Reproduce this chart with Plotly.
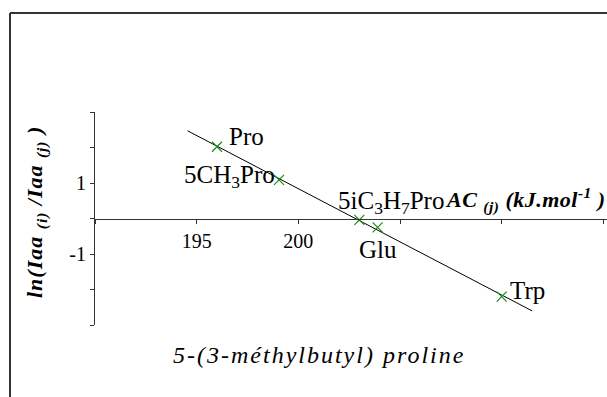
import numpy as np
import plotly.graph_objects as go

# ---- data ----
names = ["Pro", "5CH<sub>3</sub>Pro", "5iC<sub>3</sub>H<sub>7</sub>Pro", "Glu", "Trp"]
ac_values = [196.0, 199.05, 203.0, 203.9, 210.0]
ln_ratio = [2.02, 1.09, -0.04, -0.25, -2.2]
trend_x_range = [194.55, 211.5]
x_tick_values = [195, 200]
x_tick_labels = ["195", "200"]
y_tick_values = [-1, 1]
y_tick_labels = ["-1", "1"]

slope, intercept = np.polyfit(ac_values, ln_ratio, 1)
tx = np.array(trend_x_range)
ty = slope * tx + intercept

FONT = "Liberation Serif"

fig = go.Figure()
fig.add_trace(go.Scatter(x=tx, y=ty, mode="lines",
                         line=dict(color="black", width=1), hoverinfo="skip"))
fig.add_trace(go.Scatter(x=ac_values, y=ln_ratio, mode="markers",
                         marker=dict(symbol="x-thin", size=10,
                                     line=dict(color="#1a8c1a", width=1.2))))

# label placement (style only)
label_style = [
    dict(xanchor="left", yanchor="middle", xshift=10, yshift=10),
    dict(xanchor="right", yanchor="middle", xshift=-2, yshift=3),
    dict(xanchor="left", yanchor="middle", xshift=-23, yshift=17),
    dict(xanchor="center", yanchor="middle", xshift=0, yshift=-22),
    dict(xanchor="left", yanchor="middle", xshift=6, yshift=6),
]
for name, x, y, st in zip(names, ac_values, ln_ratio, label_style):
    fig.add_annotation(x=x, y=y, text=name, showarrow=False,
                       font=dict(family=FONT, size=25, color="black"), **st)

# x axis title (placed at right, above axis)
fig.add_annotation(xref="paper", yref="paper", x=1.0, y=0.5, xanchor="right",
                   yanchor="bottom", yshift=2, xshift=0, borderpad=0, showarrow=False,
                   text="<b><i><span style='letter-spacing:0.5px'>AC <sub>(j)</sub> (kJ.mol<sup>-1</sup> )</span></i></b>",
                   font=dict(family=FONT, size=22, color="black"))
# y axis title
fig.add_annotation(xref="paper", yref="paper", x=(36 - 95) / 512, y=(325 - 212) / 213,
                   xanchor="center", yanchor="middle", textangle=-90, showarrow=False,
                   text="<b><i><span style='letter-spacing:1px'>ln(Iaa <sub>(i)</sub> /Iaa <sub>(j)</sub> )</span></i></b>",
                   font=dict(family=FONT, size=22, color="black"))
# bottom caption
fig.add_annotation(xref="paper", yref="paper", x=(319 - 95) / 512, y=(325 - 355) / 213,
                   xanchor="center", yanchor="middle", showarrow=False,
                   text="<i><span style='letter-spacing:2px'>5-(3-méthylbutyl) proline</span></i>",
                   font=dict(family=FONT, size=24, color="black"))

# frame (left and top edges)
fig.add_shape(type="line", xref="paper", yref="paper", x0=(10 - 95) / 512, x1=(10 - 95) / 512,
              y0=-0.5, y1=(325 - 13) / 213, line=dict(color="#333333", width=2))
fig.add_shape(type="line", xref="paper", yref="paper", x0=(10 - 95) / 512, x1=1.1,
              y0=(325 - 13) / 213, y1=(325 - 13) / 213, line=dict(color="#333333", width=2))

fig.update_layout(
    width=607, height=397,
    margin=dict(l=95, r=0, t=112, b=72),
    paper_bgcolor="white", plot_bgcolor="white",
    showlegend=False, hovermode=False,
    font=dict(family=FONT, size=20, color="black"),
    xaxis=dict(range=[190, 215.18], tickvals=x_tick_values, ticktext=x_tick_labels,
               showgrid=False, zeroline=False, showline=True, linecolor="#333333", linewidth=1,
               ticks="outside", ticklen=4, tickcolor="#333333",
               minor=dict(dtick=5, tick0=190, ticks="outside", ticklen=4, tickcolor="#333333", showgrid=False),
               anchor="free", position=0.5,
               tickfont=dict(family=FONT, size=20, color="black")),
    yaxis=dict(range=[-3, 3], tickvals=y_tick_values, ticktext=y_tick_labels,
               showgrid=False, zeroline=False, showline=True, linecolor="#333333", linewidth=1,
               ticks="outside", ticklen=4, tickcolor="#333333",
               minor=dict(dtick=1, tick0=0, ticks="outside", ticklen=4, tickcolor="#333333", showgrid=False),
               tickfont=dict(family=FONT, size=20, color="black")),
)

fig.write_html("out.html", config={"displayModeBar": False, "staticPlot": True},
               post_script="document.body.style.margin='0';document.body.style.overflow='hidden';")
